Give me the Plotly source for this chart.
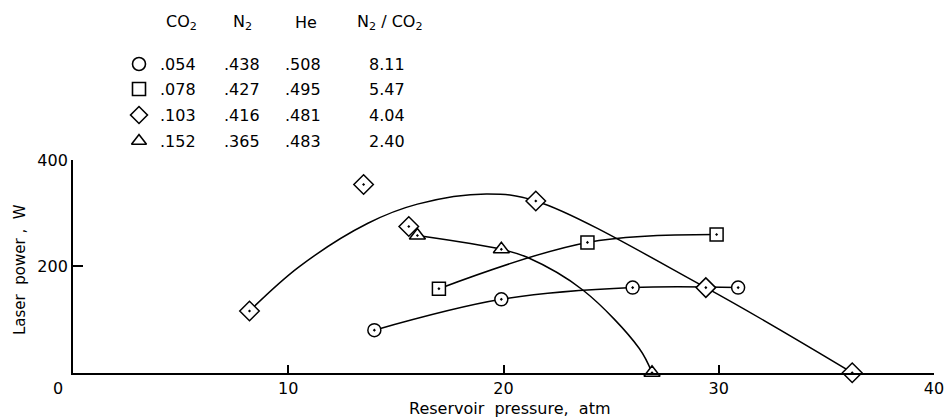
import plotly.graph_objects as go

# ---- data ----
circle_x = [14.0, 19.9, 26.0, 30.9]
circle_y = [80, 138, 160, 160]

square_x = [17.0, 23.9, 29.9]
square_y = [158, 245, 260]

diamond_x = [8.2, 13.5, 15.6, 21.5, 29.4, 36.2]
diamond_y = [116, 354, 275, 323, 160, 0]

triangle_x = [16.0, 19.9, 26.9]
triangle_y = [258, 232, 0]

# hand-drawn fitted curves
diamond_curve_x = [8.2, 10.5, 13.7, 16.0, 19.2, 21.5, 29.4, 36.2]
diamond_curve_y = [116, 199, 281, 317, 336, 323, 160, 0]
triangle_curve_x = [16.0, 19.9, 21.1, 23.7, 26.3, 26.9]
triangle_curve_y = [258, 232, 217, 155, 46, 0]

# composition table
co2 = [".054", ".078", ".103", ".152"]
n2 = [".438", ".427", ".416", ".365"]
he = [".508", ".495", ".481", ".483"]
ratio = ["8.11", "5.47", "4.04", "2.40"]
headers = ["CO<sub>2</sub>", "N<sub>2</sub>", "He", "N<sub>2</sub> / CO<sub>2</sub>"]
legend_symbols = ["circle", "square", "diamond", "triangle-up"]

x_ticks = [10, 20, 30, 40]
y_ticks = [200, 400]

FONT = "DejaVu Sans"
BLACK = "black"
W, H = 948, 418

fig = go.Figure()

def curve(x, y):
    fig.add_trace(go.Scatter(x=x, y=y, mode="lines",
                             line=dict(color=BLACK, width=1.5, shape="spline", smoothing=1.0),
                             hoverinfo="skip", showlegend=False, cliponaxis=False))

def pts(x, y, sym, size):
    fig.add_trace(go.Scatter(x=x, y=y, mode="markers",
                             marker=dict(symbol=sym, size=size, color="white",
                                         line=dict(color=BLACK, width=1.5)),
                             showlegend=False, cliponaxis=False))

curve(circle_x, circle_y)
curve(square_x, square_y)
curve(diamond_curve_x, diamond_curve_y)
curve(triangle_curve_x, triangle_curve_y)

pts(diamond_x, diamond_y, "diamond-dot", 15)
pts(triangle_x, triangle_y, "triangle-up-dot", 14)
pts(square_x, square_y, "square-dot", 13)
pts(circle_x, circle_y, "circle-dot", 13)

# ---- composition table (pixel-coordinate overlay axes x2/y2) ----
row_pix = [64, 89, 115, 141]
head_pix = 22
col_pix = [177.5, 242, 303, 387]
head_col_pix = [181, 242, 306, 390]
marker_pix = 139

fig.add_trace(go.Scatter(
    x=[marker_pix] * 4, y=row_pix, xaxis="x2", yaxis="y2",
    mode="markers",
    marker=dict(symbol=legend_symbols, size=13, color="white",
                line=dict(color=BLACK, width=1.6)),
    showlegend=False, hoverinfo="skip", cliponaxis=False))

annotations = []
for h, px in zip(headers, head_col_pix):
    annotations.append(dict(x=px, y=head_pix, xref="x2", yref="y2", text=h,
                            showarrow=False, xanchor="center", yanchor="middle",
                            font=dict(family=FONT, size=16, color=BLACK)))
for i, py in enumerate(row_pix):
    for col, px in zip([co2, n2, he, ratio], col_pix):
        annotations.append(dict(x=px, y=py, xref="x2", yref="y2", text=col[i],
                                showarrow=False, xanchor="center", yanchor="middle",
                                font=dict(family=FONT, size=16, color=BLACK)))

# origin label, axis titles
annotations.append(dict(x=58, y=388, xref="x2", yref="y2", text="0", showarrow=False,
                        xanchor="center", yanchor="middle",
                        font=dict(family=FONT, size=16, color=BLACK)))
annotations.append(dict(x=509, y=408, xref="x2", yref="y2",
                        text="Reservoir  pressure,  atm", showarrow=False,
                        xanchor="center", yanchor="middle",
                        font=dict(family=FONT, size=16, color=BLACK)))
annotations.append(dict(x=20, y=270, xref="x2", yref="y2",
                        text="Laser  power ,  W", showarrow=False, textangle=-90,
                        xanchor="center", yanchor="middle",
                        font=dict(family=FONT, size=15, color=BLACK)))

x_dom = [73 / W, 934 / W]
y_dom = [(H - 372.7) / H, (H - 160) / H]

fig.update_layout(
    width=W, height=H,
    margin=dict(l=0, r=0, t=0, b=0),
    paper_bgcolor="white", plot_bgcolor="rgba(0,0,0,0)",
    font=dict(family=FONT, color=BLACK),
    annotations=annotations,
    xaxis=dict(domain=x_dom, range=[0, 40], showline=True, linecolor=BLACK, linewidth=1.8,
               ticks="inside", ticklen=8, tickwidth=1.5, tickcolor=BLACK,
               tickvals=x_ticks, ticktext=[str(v) for v in x_ticks],
               tickfont=dict(family=FONT, size=16, color=BLACK),
               showgrid=False, zeroline=False, automargin=False),
    yaxis=dict(domain=y_dom, range=[0, 400], showline=True, linecolor=BLACK, linewidth=1.8,
               ticks="inside", ticklen=10, tickwidth=1.5, tickcolor=BLACK,
               tickvals=y_ticks, ticktext=[str(v) for v in y_ticks],
               tickfont=dict(family=FONT, size=16, color=BLACK),
               showgrid=False, zeroline=False, automargin=False),
    xaxis2=dict(domain=[0, 1], range=[0, W], visible=False, anchor="y2",
                fixedrange=True),
    yaxis2=dict(domain=[0, 1], range=[H, 0], visible=False, anchor="x2",
                fixedrange=True),
)

fig.write_html("out.html", config={"displayModeBar": False},
               post_script="document.body.style.margin='0';document.body.style.overflow='hidden';")
